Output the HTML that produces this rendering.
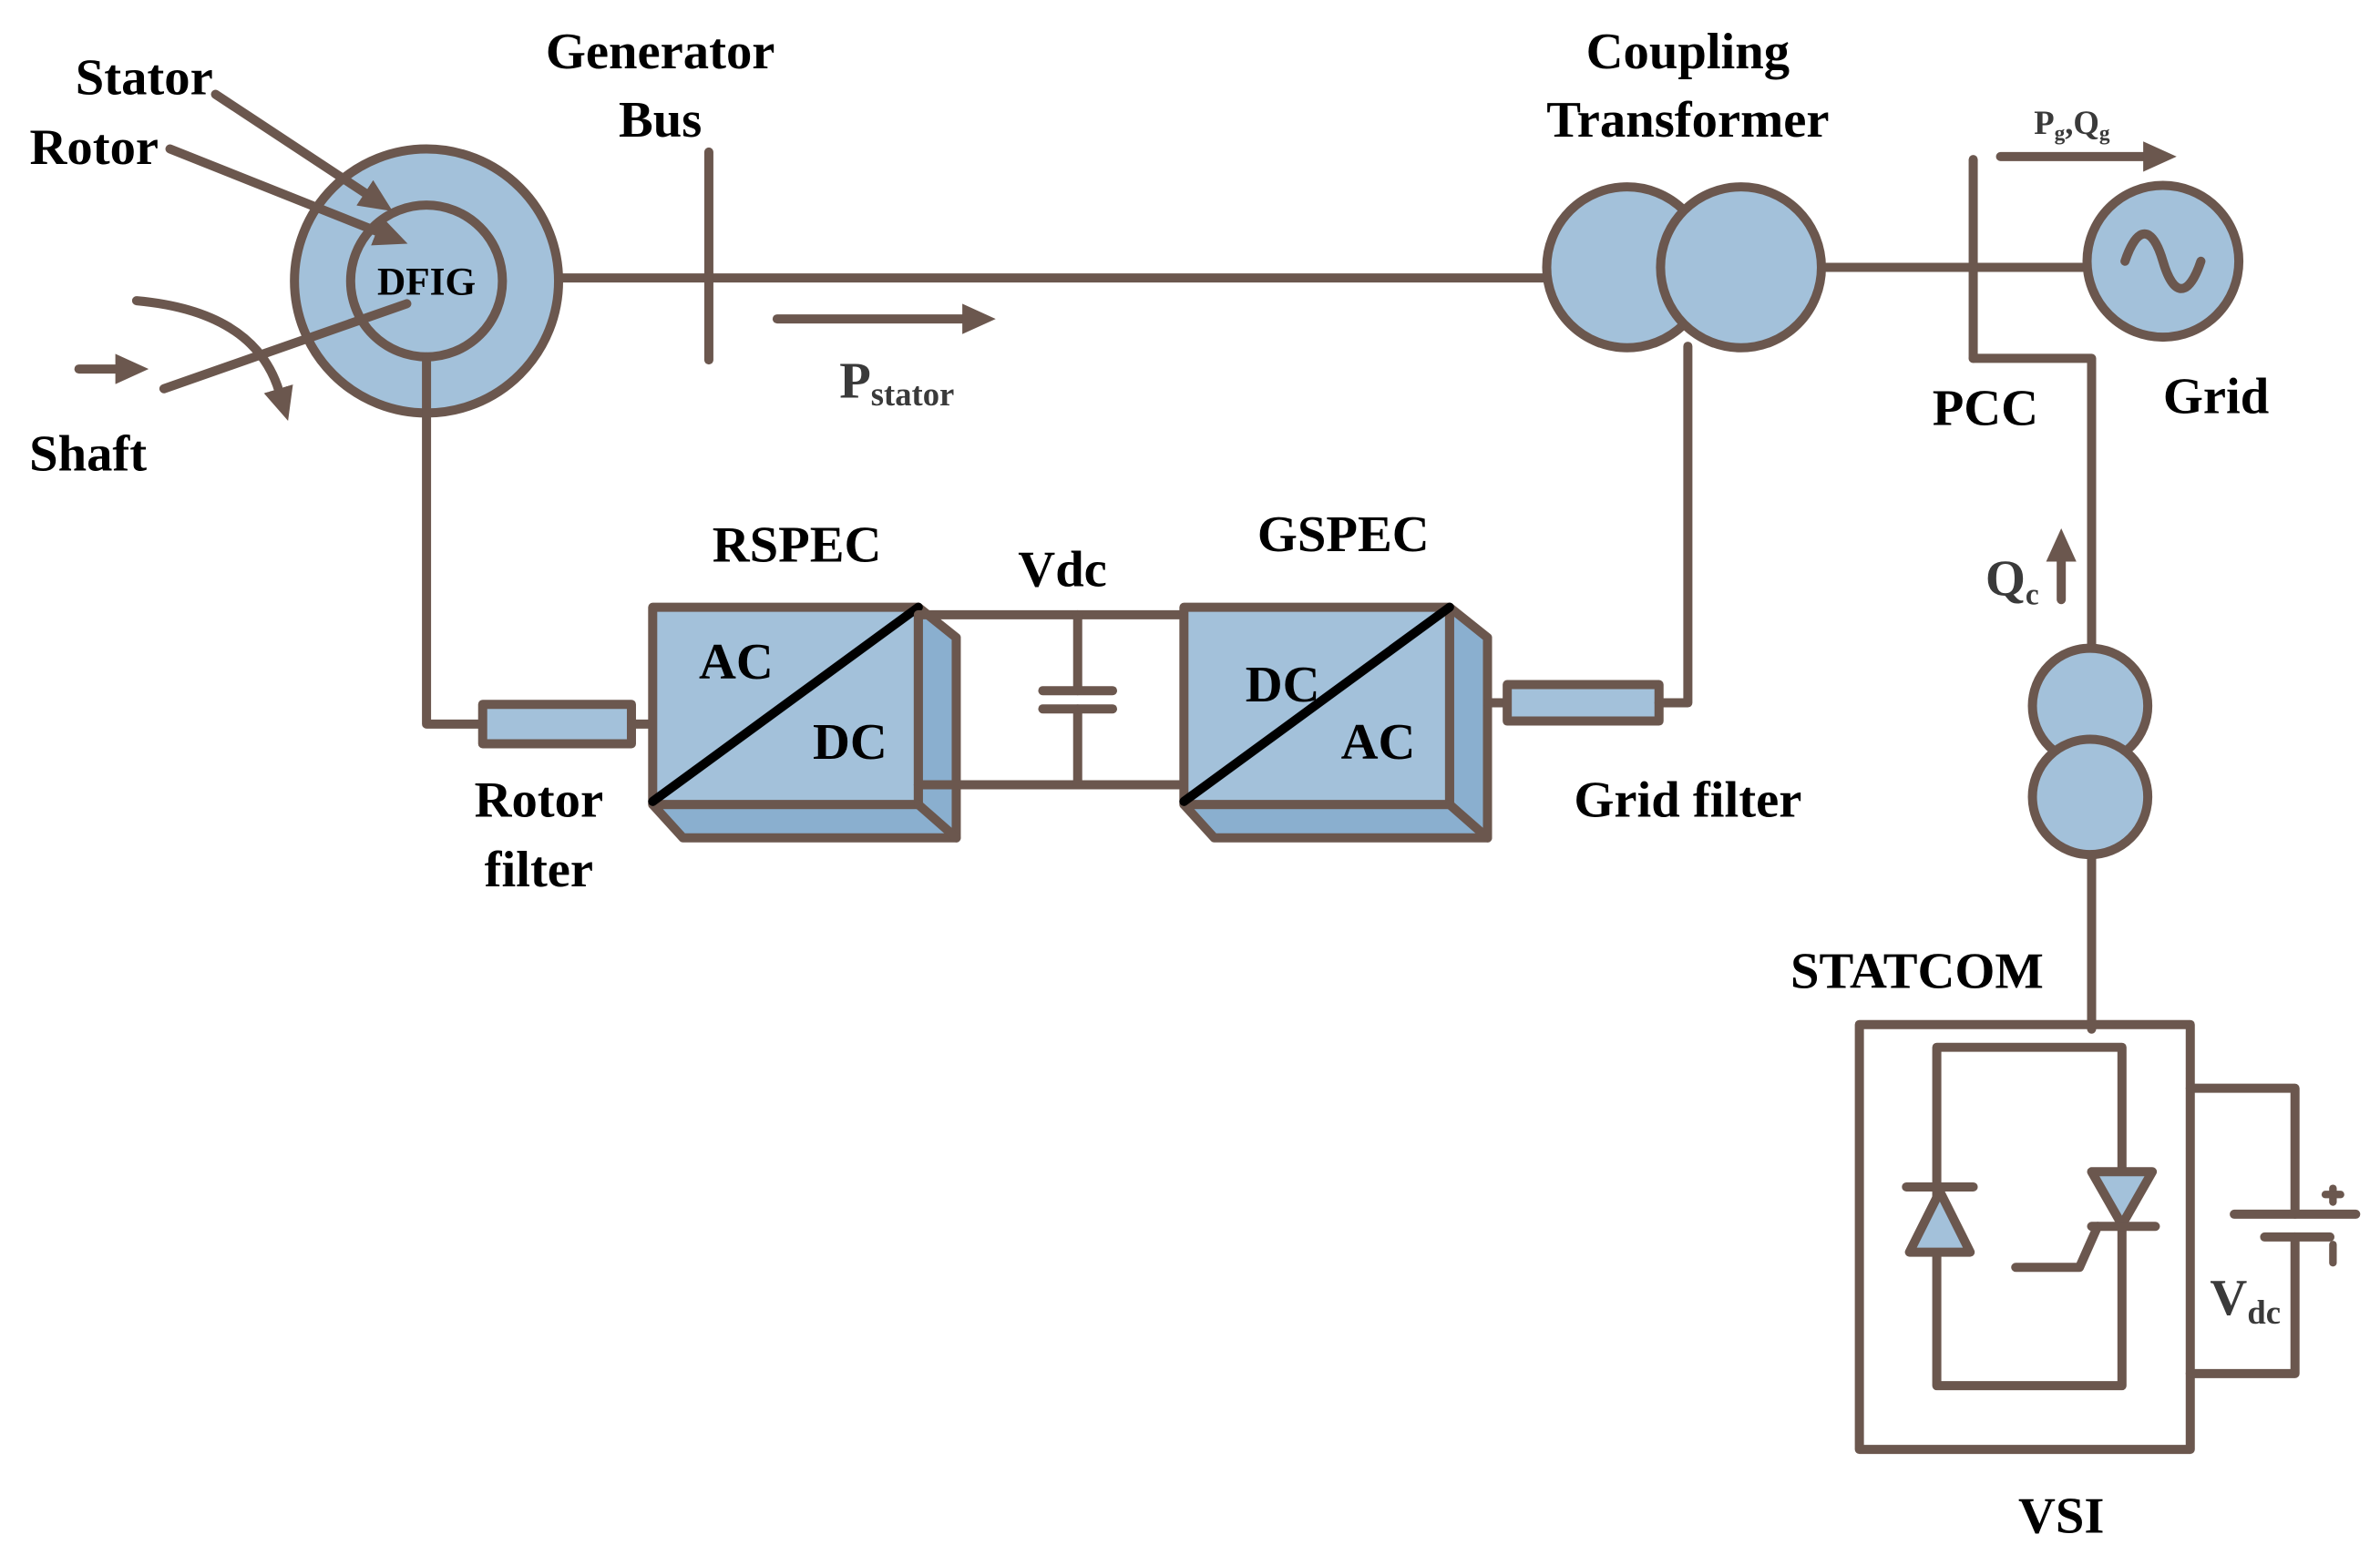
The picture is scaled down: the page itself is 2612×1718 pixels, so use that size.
<!DOCTYPE html>
<html><head><style>html,body{margin:0;padding:0;background:#fff}svg{display:block}</style></head>
<body>
<svg width="2612" height="1718" viewBox="0 0 1568 1031" xmlns="http://www.w3.org/2000/svg" font-family="Liberation Serif, serif" font-weight="bold">
<defs>
<marker id="ah" markerWidth="22" markerHeight="20" refX="2" refY="10" orient="auto" markerUnits="userSpaceOnUse"><path d="M0,0 L22,10 L0,20 z" fill="#6B574E"/></marker>
</defs>
<g stroke="#6B574E" stroke-width="6" fill="none" stroke-linecap="round" stroke-linejoin="round">
<circle cx="281" cy="185" r="87" fill="#A3C1DA"/>
<circle cx="281" cy="185" r="50"/>
<line x1="368" y1="183" x2="1020" y2="183"/>
<line x1="467" y1="100" x2="467" y2="237"/>
<line x1="512" y1="210" x2="636" y2="210" marker-end="url(#ah)"/>
<line x1="142" y1="62" x2="242" y2="128" marker-end="url(#ah)"/>
<line x1="112" y1="98" x2="250" y2="153" marker-end="url(#ah)"/>
<line x1="108" y1="256" x2="268" y2="200"/>
<line x1="52" y1="243" x2="78" y2="243" marker-end="url(#ah)"/>
<path d="M90,198 Q168,205 184,258" marker-end="url(#ah)"/>
<polyline points="281,235 281,477 318,477"/>
<rect x="318" y="464" width="98" height="26" fill="#A3C1DA"/>
<line x1="416" y1="477" x2="430" y2="477"/>
<polygon points="605,400 630,420 630,552 450,552 430,530 605,530" fill="#8AAFCF"/>
<rect x="430" y="400" width="175" height="130" fill="#A3C1DA"/>
<line x1="605" y1="530" x2="630" y2="552"/>
<line x1="430" y1="528" x2="605" y2="400" stroke="#000"/>
<polyline points="605,405 780,405"/>
<polyline points="605,517 780,517"/>
<line x1="710" y1="405" x2="710" y2="455"/>
<line x1="710" y1="467" x2="710" y2="517"/>
<line x1="687" y1="455" x2="733" y2="455"/>
<line x1="687" y1="467" x2="733" y2="467"/>
<polygon points="955,400 980,420 980,552 800,552 780,530 955,530" fill="#8AAFCF"/>
<rect x="780" y="400" width="175" height="130" fill="#A3C1DA"/>
<line x1="955" y1="530" x2="980" y2="552"/>
<line x1="780" y1="528" x2="955" y2="400" stroke="#000"/>
<line x1="980" y1="463" x2="993" y2="463"/>
<rect x="993" y="451" width="100" height="24" fill="#A3C1DA"/>
<polyline points="1093,463 1112,463 1112,228"/>
<circle cx="1072" cy="176" r="53" fill="#A3C1DA"/>
<circle cx="1147" cy="176" r="53" fill="#A3C1DA"/>
<line x1="1200" y1="176" x2="1376" y2="176"/>
<line x1="1300" y1="105" x2="1300" y2="236"/>
<polyline points="1300,236 1378,236 1378,428"/>
<line x1="1318" y1="103" x2="1414" y2="103" marker-end="url(#ah)"/>
<circle cx="1425" cy="172" r="50" fill="#A3C1DA"/>
<path d="M1400,172 C1408,148 1418,148 1425,172 C1432,196 1442,196 1450,172"/>
<line x1="1358" y1="395" x2="1358" y2="368" marker-end="url(#ah)"/>
<circle cx="1377" cy="465" r="38" fill="#A3C1DA"/>
<circle cx="1377" cy="525" r="38" fill="#A3C1DA"/>
<line x1="1378" y1="563" x2="1378" y2="678"/>
<rect x="1225" y="675" width="218" height="280"/>
<rect x="1276" y="690" width="122" height="223"/>
<polygon points="1258,825 1298,825 1278,785" fill="#A3C1DA"/>
<line x1="1256" y1="782" x2="1300" y2="782"/>
<polygon points="1378,772 1418,772 1398,807" fill="#A3C1DA"/>
<line x1="1378" y1="808" x2="1420" y2="808"/>
<polyline points="1328,835 1370,835 1382,808"/>
<polyline points="1443,717 1512,717 1512,800"/>
<polyline points="1512,815 1512,905 1443,905"/>
<line x1="1472" y1="800" x2="1552" y2="800"/>
<line x1="1492" y1="815" x2="1535" y2="815"/>
<line x1="1537" y1="783" x2="1537" y2="792" stroke-width="5"/>
<line x1="1532" y1="787" x2="1542" y2="787" stroke-width="5"/>
<line x1="1537" y1="820" x2="1537" y2="832" stroke-width="5"/>
</g>
<g font-size="34" fill="#000" text-anchor="middle">
<text x="95" y="62">Stator</text>
<text x="62" y="108">Rotor</text>
<text x="58" y="310">Shaft</text>
<text x="435" y="45">Generator</text>
<text x="435" y="90">Bus</text>
<text x="1112" y="45">Coupling</text>
<text x="1112" y="90">Transformer</text>
<text x="1308" y="280">PCC</text>
<text x="1460" y="272">Grid</text>
<text x="525" y="370">RSPEC</text>
<text x="700" y="386">Vdc</text>
<text x="885" y="363">GSPEC</text>
<text x="355" y="538">Rotor</text>
<text x="355" y="584">filter</text>
<text x="1112" y="538">Grid filter</text>
<text x="1263" y="651">STATCOM</text>
<text x="1358" y="1010">VSI</text>
<text x="485" y="447">AC</text>
<text x="560" y="500">DC</text>
<text x="845" y="462">DC</text>
<text x="908" y="500">AC</text>
<text x="281" y="194" font-size="26">DFIG</text>
</g>
<g fill="#3a3a3a" font-size="34">
<text x="553" y="262">P<tspan font-size="22" dy="5">stator</tspan></text>
<text x="1340" y="88" font-size="22">P<tspan font-size="14" dy="4">g</tspan><tspan dy="-4">,Q</tspan><tspan font-size="14" dy="4">g</tspan></text>
<text x="1308" y="392">Q<tspan font-size="20" dy="6">c</tspan></text>
<text x="1456" y="866">V<tspan font-size="22" dy="6">dc</tspan></text>
</g>
</svg>
</body></html>
